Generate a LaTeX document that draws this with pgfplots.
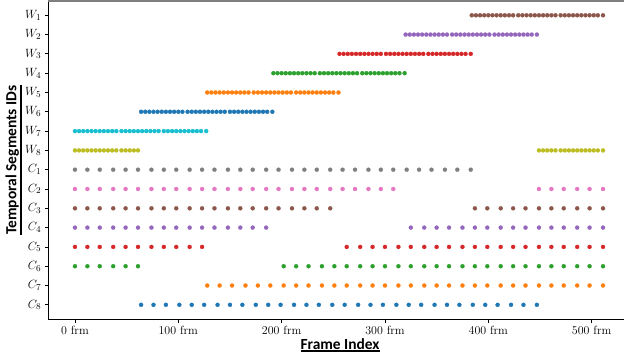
\documentclass[border=0pt]{standalone}
\usepackage{fontspec}
\usepackage{pgfplots}
\pgfplotsset{compat=1.18}
\newfontfamily\labelfont{Carlito}
\definecolor{tabblue}{HTML}{1F77B4}
\definecolor{taborange}{HTML}{FF7F0E}
\definecolor{tabgreen}{HTML}{2CA02C}
\definecolor{tabred}{HTML}{D62728}
\definecolor{tabpurple}{HTML}{9467BD}
\definecolor{tabbrown}{HTML}{8C564B}
\definecolor{tabpink}{HTML}{E377C2}
\definecolor{tabgray}{HTML}{7F7F7F}
\definecolor{tabolive}{HTML}{BCBD22}
\definecolor{tabcyan}{HTML}{17BECF}
\newcommand\thul[1]{\begingroup\setbox0=\hbox{#1}\dimen0=\wd0\vtop{\hbox{\box0}\kern1.2pt\hrule width\dimen0 height1.4pt}\endgroup}
\begin{document}
\begin{tikzpicture}
\begin{axis}[
  name=ax, scale only axis, width=575.7bp, height=318.5bp,
  xmin=-25.8, xmax=531.3, ymin=0.25, ymax=16.75,
  axis x line*=bottom, axis y line*=left,
  axis line style={line width=0.8bp, black},
  clip=false,
  xtick={0,100,200,300,400,500},
  xticklabels={0 frm,100 frm,200 frm,300 frm,400 frm,500 frm},
  ytick={1,2,3,4,5,6,7,8,9,10,11,12,13,14,15,16},
  yticklabels={$C_8$,$C_7$,$C_6$,$C_5$,$C_4$,$C_3$,$C_2$,$C_1$,$W_8$,$W_7$,$W_6$,$W_5$,$W_4$,$W_3$,$W_2$,$W_1$},
  tick align=outside, major tick length=3.5bp,
  tick style={line width=0.8bp, black},
  xticklabel style={font=\fontsize{12}{14}\selectfont},
  yticklabel style={font=\fontsize{13}{15}\selectfont},
  xlabel={\labelfont\bfseries\fontsize{15.5}{18}\selectfont\thul{Frame Index}},
  xlabel style={at={(axis description cs:0.5067,0)}, anchor=base, yshift=-29.7bp, inner sep=0pt, outer sep=0pt},
  ylabel={\labelfont\bfseries\fontsize{15.5}{18}\selectfont\thul{Temporal Segments IDs}},
  ylabel style={at={(axis description cs:-0.0462,0.5)}, anchor=south, rotate=0, inner sep=0pt, outer sep=0pt},
  every axis plot/.append style={only marks, mark=*, mark size=2.05bp, mark options={line width=0.2bp}},
]
% W rows
\addplot[tabbrown] coordinates {(384,16)(388,16)(392,16)(396,16)(400,16)(404,16)(408,16)(412,16)(416,16)(420,16)(424,16)(429,16)(433,16)(437,16)(441,16)(445,16)(449,16)(453,16)(457,16)(461,16)(465,16)(470,16)(474,16)(478,16)(482,16)(486,16)(490,16)(494,16)(498,16)(502,16)(506,16)(511,16)};
\addplot[tabpurple] coordinates {(320,15)(324,15)(328,15)(332,15)(336,15)(340,15)(344,15)(348,15)(352,15)(356,15)(360,15)(365,15)(369,15)(373,15)(377,15)(381,15)(385,15)(389,15)(393,15)(397,15)(401,15)(406,15)(410,15)(414,15)(418,15)(422,15)(426,15)(430,15)(434,15)(438,15)(442,15)(447,15)};
\addplot[tabred] coordinates {(256,14)(260,14)(264,14)(268,14)(272,14)(276,14)(280,14)(284,14)(288,14)(292,14)(296,14)(301,14)(305,14)(309,14)(313,14)(317,14)(321,14)(325,14)(329,14)(333,14)(337,14)(342,14)(346,14)(350,14)(354,14)(358,14)(362,14)(366,14)(370,14)(374,14)(378,14)(383,14)};
\addplot[tabgreen] coordinates {(192,13)(196,13)(200,13)(204,13)(208,13)(212,13)(216,13)(220,13)(224,13)(228,13)(232,13)(237,13)(241,13)(245,13)(249,13)(253,13)(257,13)(261,13)(265,13)(269,13)(273,13)(278,13)(282,13)(286,13)(290,13)(294,13)(298,13)(302,13)(306,13)(310,13)(314,13)(319,13)};
\addplot[taborange] coordinates {(128,12)(132,12)(136,12)(140,12)(144,12)(148,12)(152,12)(156,12)(160,12)(164,12)(168,12)(173,12)(177,12)(181,12)(185,12)(189,12)(193,12)(197,12)(201,12)(205,12)(209,12)(214,12)(218,12)(222,12)(226,12)(230,12)(234,12)(238,12)(242,12)(246,12)(250,12)(255,12)};
\addplot[tabblue] coordinates {(64,11)(68,11)(72,11)(76,11)(80,11)(84,11)(88,11)(92,11)(96,11)(100,11)(104,11)(109,11)(113,11)(117,11)(121,11)(125,11)(129,11)(133,11)(137,11)(141,11)(145,11)(150,11)(154,11)(158,11)(162,11)(166,11)(170,11)(174,11)(178,11)(182,11)(186,11)(191,11)};
\addplot[tabcyan] coordinates {(0,10)(4,10)(8,10)(12,10)(16,10)(20,10)(24,10)(28,10)(32,10)(36,10)(40,10)(45,10)(49,10)(53,10)(57,10)(61,10)(65,10)(69,10)(73,10)(77,10)(81,10)(86,10)(90,10)(94,10)(98,10)(102,10)(106,10)(110,10)(114,10)(118,10)(122,10)(127,10)};
\addplot[tabolive] coordinates {(0,9)(4,9)(8,9)(12,9)(16,9)(20,9)(24,9)(28,9)(32,9)(36,9)(40,9)(45,9)(49,9)(53,9)(57,9)(61,9)(449,9)(453,9)(457,9)(461,9)(465,9)(470,9)(474,9)(478,9)(482,9)(486,9)(490,9)(494,9)(498,9)(502,9)(506,9)(511,9)};
% C rows
\addplot[tabgray] coordinates {(0,8)(12,8)(24,8)(37,8)(49,8)(61,8)(74,8)(86,8)(98,8)(111,8)(123,8)(135,8)(148,8)(160,8)(172,8)(185,8)(197,8)(210,8)(222,8)(234,8)(247,8)(259,8)(271,8)(284,8)(296,8)(308,8)(321,8)(333,8)(345,8)(358,8)(370,8)(383,8)};
\addplot[tabpink] coordinates {(0,7)(12,7)(24,7)(37,7)(49,7)(61,7)(74,7)(86,7)(98,7)(111,7)(123,7)(135,7)(148,7)(160,7)(172,7)(185,7)(197,7)(210,7)(222,7)(234,7)(247,7)(259,7)(271,7)(284,7)(296,7)(308,7)(449,7)(461,7)(473,7)(486,7)(498,7)(511,7)};
\addplot[tabbrown] coordinates {(0,6)(12,6)(24,6)(37,6)(49,6)(61,6)(74,6)(86,6)(98,6)(111,6)(123,6)(135,6)(148,6)(160,6)(172,6)(185,6)(197,6)(210,6)(222,6)(234,6)(247,6)(387,6)(399,6)(412,6)(424,6)(436,6)(449,6)(461,6)(473,6)(486,6)(498,6)(511,6)};
\addplot[tabpurple] coordinates {(0,5)(12,5)(24,5)(37,5)(49,5)(61,5)(74,5)(86,5)(98,5)(111,5)(123,5)(135,5)(148,5)(160,5)(172,5)(185,5)(325,5)(338,5)(350,5)(362,5)(375,5)(387,5)(399,5)(412,5)(424,5)(436,5)(449,5)(461,5)(473,5)(486,5)(498,5)(511,5)};
\addplot[tabred] coordinates {(0,4)(12,4)(24,4)(37,4)(49,4)(61,4)(74,4)(86,4)(98,4)(111,4)(123,4)(263,4)(276,4)(288,4)(300,4)(313,4)(325,4)(338,4)(350,4)(362,4)(375,4)(387,4)(399,4)(412,4)(424,4)(436,4)(449,4)(461,4)(473,4)(486,4)(498,4)(511,4)};
\addplot[tabgreen] coordinates {(0,3)(12,3)(24,3)(37,3)(49,3)(61,3)(202,3)(214,3)(226,3)(239,3)(251,3)(263,3)(276,3)(288,3)(300,3)(313,3)(325,3)(338,3)(350,3)(362,3)(375,3)(387,3)(399,3)(412,3)(424,3)(436,3)(449,3)(461,3)(473,3)(486,3)(498,3)(511,3)};
\addplot[taborange] coordinates {(128,2)(140,2)(152,2)(165,2)(177,2)(189,2)(202,2)(214,2)(226,2)(239,2)(251,2)(263,2)(276,2)(288,2)(300,2)(313,2)(325,2)(338,2)(350,2)(362,2)(375,2)(387,2)(399,2)(412,2)(424,2)(436,2)(449,2)(461,2)(473,2)(486,2)(498,2)(511,2)};
\addplot[tabblue] coordinates {(64,1)(76,1)(88,1)(101,1)(113,1)(125,1)(138,1)(150,1)(162,1)(175,1)(187,1)(199,1)(212,1)(224,1)(236,1)(249,1)(261,1)(274,1)(286,1)(298,1)(311,1)(323,1)(335,1)(348,1)(360,1)(372,1)(385,1)(397,1)(409,1)(422,1)(434,1)(447,1)};
\draw[line width=1.5bp, tabgray] (rel axis cs:0,1) -- (rel axis cs:1,1);
\end{axis}
\pgfresetboundingbox
\path[use as bounding box] ([xshift=-48.3bp,yshift=-36.7bp]ax.south west) rectangle ([yshift=0.8bp]ax.north east);
\end{tikzpicture}
\end{document}
